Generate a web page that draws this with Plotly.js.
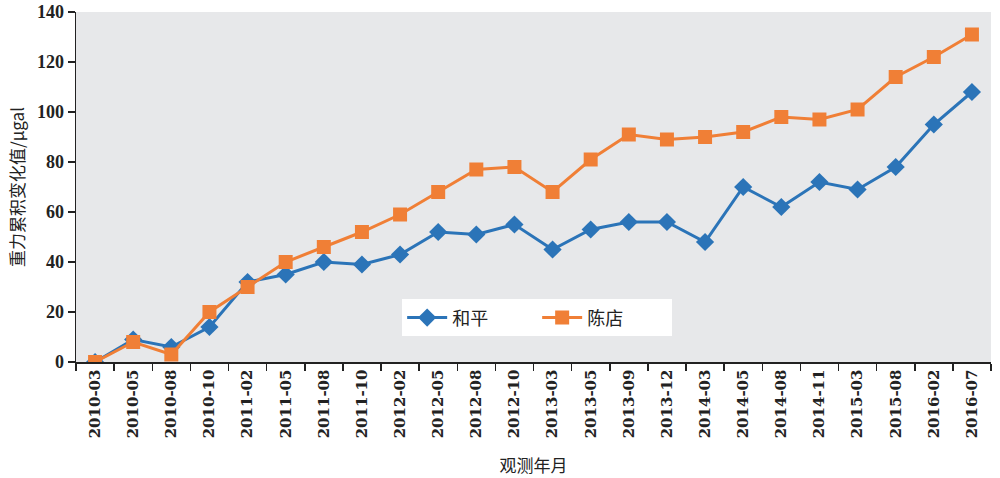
<!DOCTYPE html>
<html>
<head>
<meta charset="utf-8">
<script src="https://cdn.plot.ly/plotly-3.0.1.min.js"></script>
<style>body{margin:0;padding:0;background:#fff;}#chart{width:1000px;height:478px;}</style>
</head>
<body>
<div id="chart"></div>
<script>
const categories = ["2010-03","2010-05","2010-08","2010-10","2011-02","2011-05","2011-08","2011-10","2012-02","2012-05","2012-08","2012-10","2013-03","2013-05","2013-09","2013-12","2014-03","2014-05","2014-08","2014-11","2015-03","2015-08","2016-02","2016-07"];
const hepingValues = [0, 9, 6, 14, 32, 35, 40, 39, 43, 52, 51, 55, 45, 53, 56, 56, 48, 70, 62, 72, 69, 78, 95, 108];
const chendianValues = [0, 8, 3, 20, 30, 40, 46, 52, 59, 68, 77, 78, 68, 81, 91, 89, 90, 92, 98, 97, 101, 114, 122, 131];
const seriesNames = ["和平", "陈店"];
const yTicks = [0, 20, 40, 60, 80, 100, 120, 140];

const serif = '"Liberation Serif", "DejaVu Serif", serif';
const xserif = '"DejaVu Serif", serif';
const cjk = '"Noto Sans CJK SC", sans-serif';

const traces = [
  {
    x: categories, y: hepingValues, name: seriesNames[0], type: 'scatter', mode: 'lines+markers',
    line: {color: '#2b74b8', width: 3},
    marker: {symbol: 'diamond', size: 14, color: '#2b74b8'}
  },
  {
    x: categories, y: chendianValues, name: seriesNames[1], type: 'scatter', mode: 'lines+markers',
    line: {color: '#f07f36', width: 3},
    marker: {symbol: 'square', size: 14, color: '#f07f36'}
  }
];

const layout = {
  width: 1000, height: 478,
  margin: {l: 76, r: 9, t: 12, b: 116},
  paper_bgcolor: '#ffffff',
  plot_bgcolor: '#e7e8ea',
  showlegend: true,
  legend: {
    orientation: 'h', x: 0.504, y: 0.126, xanchor: 'center', yanchor: 'middle',
    bgcolor: '#ffffff', font: {family: cjk, size: 18, color: '#222'},
    itemwidth: 40, entrywidth: 80
  },
  xaxis: {
    type: 'category', range: [-0.5, 23.5], tickson: 'boundaries',
    showgrid: false, zeroline: false,
    showline: true, linecolor: '#222', linewidth: 1.5,
    ticks: 'outside', ticklen: 7, tickcolor: '#222', tickwidth: 1.5,
    tickangle: -90,
    tickfont: {family: xserif, size: 15, color: '#222', weight: 'bold'},
    title: {text: '观测年月', font: {family: cjk, size: 17, color: '#222'}, standoff: 22}
  },
  yaxis: {
    range: [0, 140], tickvals: yTicks, ticktext: yTicks.map(String),
    showgrid: false, zeroline: false,
    showline: true, linecolor: '#222', linewidth: 1.5,
    ticks: 'outside', ticklen: 7, tickcolor: '#222', tickwidth: 1.5,
    tickfont: {family: serif, size: 18, color: '#222', weight: 'bold'},
    title: {text: '重力累积变化值/μgal', font: {family: cjk, size: 17, color: '#222'}, standoff: 8}
  }
};

Plotly.newPlot('chart', traces, layout, {displayModeBar: false, staticPlot: true});
</script>
</body>
</html>
